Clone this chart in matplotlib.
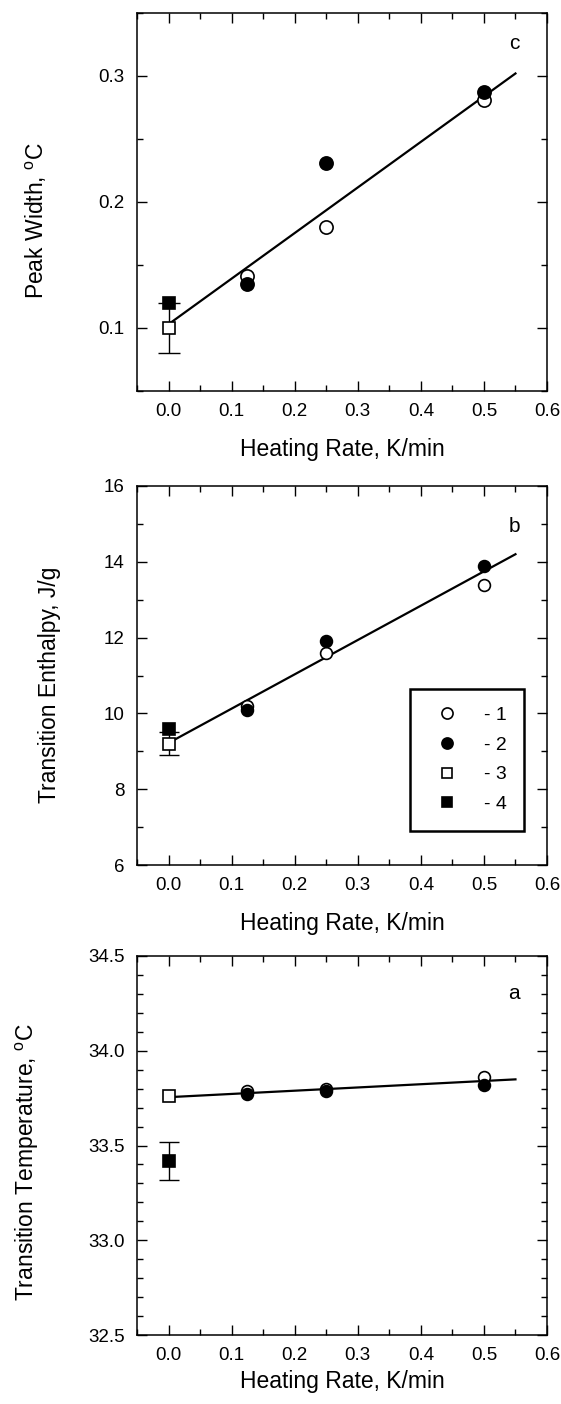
import matplotlib
matplotlib.use("Agg")
import matplotlib.pyplot as plt
from matplotlib.ticker import MultipleLocator, FormatStrFormatter
from matplotlib.lines import Line2D

plt.rcParams['font.family'] = ['Liberation Sans', 'DejaVu Sans']
plt.rcParams['mathtext.default'] = 'regular'

# ---------------- data ----------------
x_rates = [0.125, 0.25, 0.5]
x_zero = [0.0]

# panel c: peak width
c_s1 = [0.141, 0.180, 0.281]
c_s2 = [0.135, 0.231, 0.287]
c_s3 = [0.100]
c_s3_err = [0.02]
c_s4 = [0.120]
c_fit_x = [0.0, 0.55]
c_fit_y = [0.103, 0.302]

# panel b: transition enthalpy
b_s1 = [10.2, 11.6, 13.4]
b_s2 = [10.1, 11.9, 13.9]
b_s3 = [9.2]
b_s3_err = [0.3]
b_s4 = [9.6]
b_fit_x = [0.0, 0.55]
b_fit_y = [9.22, 14.2]

# panel a: transition temperature
a_s1 = [33.79, 33.80, 33.86]
a_s2 = [33.77, 33.79, 33.82]
a_s3 = [33.76]
a_s4 = [33.42]
a_s4_err = [0.10]
a_fit_x = [0.0, 0.55]
a_fit_y = [33.755, 33.849]

legend_labels = ['- 1', '- 2', '- 3', '- 4']

# ---------------- figure ----------------
W, H = 561, 1404
fig = plt.figure(figsize=(W / 100, H / 100), dpi=100)


def px_axes(left, top, right, bottom):
    return fig.add_axes([left / W, 1 - bottom / H, (right - left) / W, (bottom - top) / H])


ax_c = px_axes(137, 13, 547, 391)
ax_b = px_axes(137, 486, 547, 865)
ax_a = px_axes(137, 956, 547, 1335)

TICK_FS = 13.5
LABEL_FS = 16.5
MEW = 1.2
LW_FIT = 1.6


def style_axes(ax, ymin, ymax, ymaj, ymin_step, yfmt):
    ax.set_xlim(-0.05, 0.6)
    ax.set_ylim(ymin, ymax)
    ax.xaxis.set_major_locator(MultipleLocator(0.1))
    ax.xaxis.set_minor_locator(MultipleLocator(0.05))
    ax.yaxis.set_major_locator(MultipleLocator(ymaj))
    ax.yaxis.set_minor_locator(MultipleLocator(ymin_step))
    ax.xaxis.set_major_formatter(FormatStrFormatter('%.1f'))
    ax.yaxis.set_major_formatter(FormatStrFormatter(yfmt))
    ax.tick_params(which='both', direction='in', top=True, right=True,
                   labelsize=TICK_FS, width=1.0, color='black')
    ax.tick_params(which='major', length=7.5, pad=9)
    ax.tick_params(which='minor', length=4)
    for s in ax.spines.values():
        s.set_linewidth(1.1)
    ax.set_xlabel('Heating Rate, K/min', fontsize=LABEL_FS)


def plot_panel(ax, s1, s2, s3, s4, fitx, fity, ms, err3=None, err4=None, cap=7.5):
    ax.plot(fitx, fity, color='black', lw=LW_FIT, zorder=2)
    ax.plot(x_rates, s1, 'o', ms=ms, mfc='white', mec='black', mew=MEW, ls='none', zorder=4)
    ax.plot(x_rates, s2, 'o', ms=ms, mfc='black', mec='black', mew=MEW, ls='none', zorder=5)
    if err3 is not None:
        ax.errorbar(x_zero, s3, yerr=err3, fmt='none', ecolor='black', elinewidth=1.0,
                    capsize=cap, capthick=1.0, zorder=3)
    if err4 is not None:
        ax.errorbar(x_zero, s4, yerr=err4, fmt='none', ecolor='black', elinewidth=1.0,
                    capsize=cap, capthick=1.0, zorder=3)
    ax.plot(x_zero, s3, 's', ms=ms * 0.95, mfc='white', mec='black', mew=MEW, ls='none', zorder=4)
    ax.plot(x_zero, s4, 's', ms=ms * 0.95, mfc='black', mec='black', mew=MEW, ls='none', zorder=5)


# panel c
style_axes(ax_c, 0.05, 0.35, 0.1, 0.05, '%.1f')
plot_panel(ax_c, c_s1, c_s2, c_s3, c_s4, c_fit_x, c_fit_y, ms=9.5, err3=c_s3_err, cap=8)
ax_c.set_ylabel('Peak Width, $^{o}$C', fontsize=LABEL_FS)
ax_c.yaxis.set_label_coords(-0.215, 0.45)
ax_c.xaxis.set_label_coords(0.5, -0.125)
ax_c.text(0.92, 0.92, 'c', transform=ax_c.transAxes, fontsize=15, ha='center', va='center')

# panel b
style_axes(ax_b, 6, 16, 2, 1, '%d')
plot_panel(ax_b, b_s1, b_s2, b_s3, b_s4, b_fit_x, b_fit_y, ms=8.5, err3=b_s3_err, cap=7)
ax_b.set_ylabel('Transition Enthalpy, J/g', fontsize=LABEL_FS)
ax_b.yaxis.set_label_coords(-0.185, 0.475)
ax_b.xaxis.set_label_coords(0.5, -0.125)
ax_b.text(0.92, 0.894, 'b', transform=ax_b.transAxes, fontsize=15, ha='center', va='center')

handles = [
    Line2D([], [], marker='o', ls='none', ms=8, mfc='white', mec='black', mew=MEW),
    Line2D([], [], marker='o', ls='none', ms=8, mfc='black', mec='black', mew=MEW),
    Line2D([], [], marker='s', ls='none', ms=7, mfc='white', mec='black', mew=MEW),
    Line2D([], [], marker='s', ls='none', ms=7, mfc='black', mec='black', mew=MEW),
]
leg = ax_b.legend(handles, legend_labels, loc='upper left', bbox_to_anchor=(0.666, 0.4644),
                  fontsize=14, frameon=True, fancybox=False, edgecolor='black',
                  borderpad=0.9, labelspacing=0.62, handlelength=2.0, handletextpad=0.9,
                  borderaxespad=0.0)
leg.get_frame().set_linewidth(1.8)
leg.get_frame().set_alpha(1)

# panel a
style_axes(ax_a, 32.5, 34.5, 0.5, 0.1, '%.1f')
plot_panel(ax_a, a_s1, a_s2, a_s3, a_s4, a_fit_x, a_fit_y, ms=8.5, err4=a_s4_err, cap=7.5)
ax_a.set_ylabel('Transition Temperature, $^{o}$C', fontsize=LABEL_FS)
ax_a.yaxis.set_label_coords(-0.235, 0.455)
ax_a.xaxis.set_label_coords(0.5, -0.092)
ax_a.text(0.92, 0.90, 'a', transform=ax_a.transAxes, fontsize=15, ha='center', va='center')

fig.savefig('out.png', dpi=100)
